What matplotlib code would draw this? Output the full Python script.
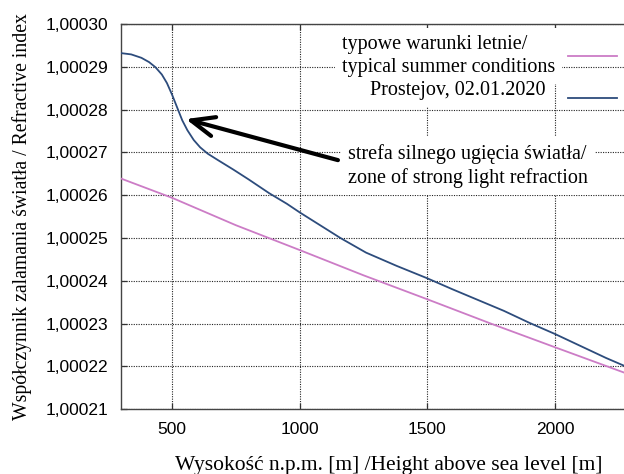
import matplotlib
matplotlib.use("Agg")
import matplotlib.pyplot as plt
from matplotlib.lines import Line2D

# Height above sea level [m] and refractive index, typical summer profile
summer_height = [300, 500, 750, 1000, 1250, 1500, 1750, 2000, 2270]
summer_index = [1.0002639, 1.0002594, 1.0002530, 1.0002472, 1.0002413,
                1.0002357, 1.0002300, 1.0002245, 1.0002186]

# Prostejov sounding, 02.01.2020
prostejov_height = [300, 340, 380, 410, 435, 460, 480, 500, 520, 540, 560,
                    585, 610, 640, 680, 740, 800, 880, 950, 1000, 1080, 1160,
                    1260, 1380, 1500, 1600, 1700, 1800, 1900, 2000, 2100,
                    2200, 2270]
prostejov_index = [1.0002932, 1.0002929, 1.0002921, 1.0002911, 1.0002899,
                   1.0002882, 1.0002862, 1.0002835, 1.0002805, 1.0002775,
                   1.0002752, 1.0002729, 1.0002712, 1.0002697, 1.0002682,
                   1.0002660, 1.0002637, 1.0002605, 1.0002580, 1.0002560,
                   1.0002530, 1.0002500, 1.0002466, 1.0002435, 1.0002406,
                   1.0002380, 1.0002355, 1.0002330, 1.0002302, 1.0002276,
                   1.0002248, 1.0002220, 1.0002202]

x_ticks = [500, 1000, 1500, 2000]
y_ticks = [1.00021, 1.00022, 1.00023, 1.00024, 1.00025,
           1.00026, 1.00027, 1.00028, 1.00029, 1.00030]
y_tick_labels = ["1,00021", "1,00022", "1,00023", "1,00024", "1,00025",
                 "1,00026", "1,00027", "1,00028", "1,00029", "1,00030"]

summer_label = "typowe warunki letnie/\ntypical summer conditions"
prostejov_label = "Prostejov, 02.01.2020"
zone_label = "strefa silnego ugięcia światła/\nzone of strong light refraction"
arrow_tail = (1150, 1.0002682)
arrow_head = (554, 1.0002778)

PINK = "#cc7cc6"
BLUE = "#2d4c7c"
SERIF = "Liberation Serif"
SANS = "Liberation Sans"

W, H = 624, 474
fig = plt.figure(figsize=(W / 100, H / 100), dpi=100)
L, R, T, B = 121, 657, 24, 409.3
ax = fig.add_axes([L / W, (H - B) / H, (R - L) / W, (B - T) / H])

ax.plot(summer_height, summer_index, color=PINK, lw=1.3, zorder=3)
ax.plot(prostejov_height, prostejov_index, color=BLUE, lw=1.3, zorder=3)

ax.set_xlim(300, 2400)
ax.set_ylim(1.00021, 1.00030)
ax.set_xticks(x_ticks)
ax.set_xticklabels([str(v) for v in x_ticks], fontfamily=SANS, fontsize=12.5)
ax.set_yticks(y_ticks)
ax.set_yticklabels(y_tick_labels, fontfamily=SANS, fontsize=12.5)
ax.tick_params(axis="both", direction="in", length=4, width=0.9,
               color="#333333", top=True, right=True)
ax.tick_params(axis="x", pad=9)
ax.tick_params(axis="y", pad=9)
for s in ax.spines.values():
    s.set_color("#444444")
    s.set_linewidth(1.0)

ax.grid(True, color="#222222", lw=0.8, linestyle=(0, (1, 1.2)), zorder=1)
ax.set_axisbelow(True)

ax.set_xlabel("Wysokość n.p.m. [m] /Height above sea level [m]",
              fontfamily=SERIF, fontsize=15.5, labelpad=14)
ax.set_ylabel("Współczynnik zalamania światła / Refractive index",
              fontfamily=SERIF, fontsize=14.2, labelpad=10)

def fx(px):
    return (px - L) / (R - L)

def fy(py):
    return (B - py) / (B - T)

box = dict(facecolor="white", edgecolor="none", pad=5)

# key entries
ax.text(fx(342), fy(56), summer_label, transform=ax.transAxes, ha="left",
        va="center", fontfamily=SERIF, fontsize=14.5, linespacing=1.25,
        bbox=box, zorder=4)
ax.add_line(Line2D([fx(568), fx(617)], [fy(56), fy(56)], color=PINK, lw=1.3,
                   transform=ax.transAxes, zorder=5))
ax.text(fx(546), fy(91), prostejov_label, transform=ax.transAxes, ha="right",
        va="center", fontfamily=SERIF, fontsize=14.5, bbox=box, zorder=4)
ax.add_line(Line2D([fx(568), fx(617)], [fy(98.5), fy(98.5)], color=BLUE,
                   lw=1.3, transform=ax.transAxes, zorder=5))

# annotation of the strong refraction zone
ax.text(fx(348), fy(166), zone_label, transform=ax.transAxes, ha="left",
        va="center", fontfamily=SERIF, fontsize=14.5, linespacing=1.25,
        bbox=box, zorder=4)
ax.annotate("", xy=arrow_head, xytext=arrow_tail,
            arrowprops=dict(arrowstyle="->,head_length=1.2,head_width=0.5",
                            lw=3, color="black", mutation_scale=14,
                            shrinkA=0, shrinkB=0),
            zorder=6)

fig.savefig("out.png", dpi=100)
